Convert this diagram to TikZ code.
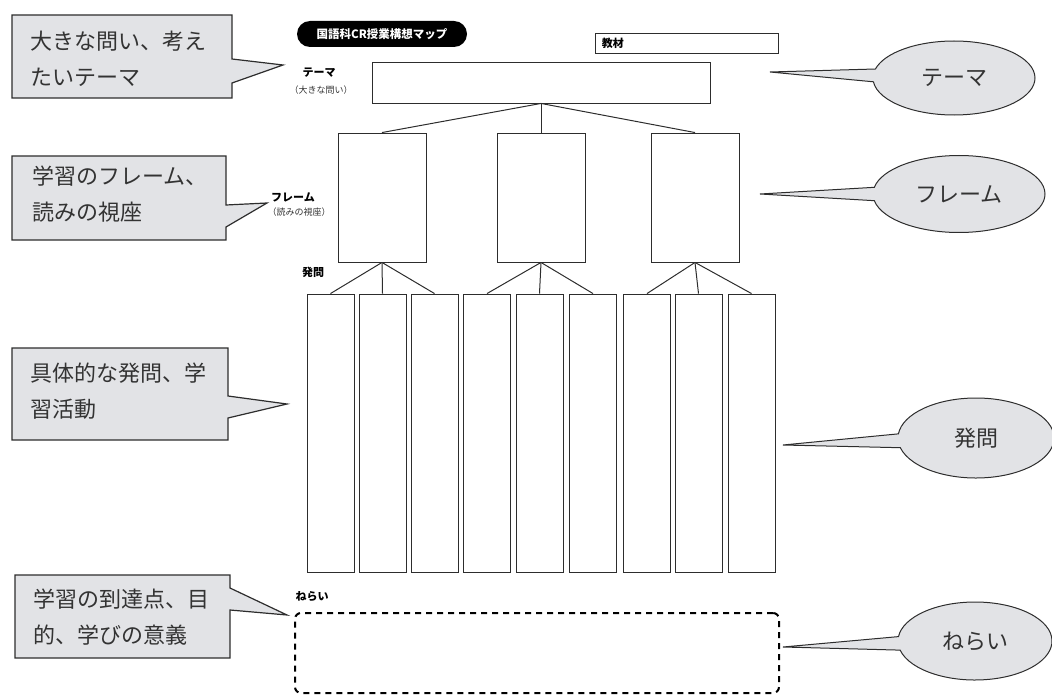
\documentclass[tikz,border=0pt]{standalone}
\usepackage{fontspec}
\setmainfont{Noto Sans CJK JP}
\usepackage{xcolor}
\usepackage{tikz}
\usetikzlibrary{shapes.geometric,shapes.callouts}

\definecolor{notegray}{RGB}{226,227,230}
\definecolor{linegray}{RGB}{45,45,45}

\tikzset{
	notebox/.style={draw=linegray, line width=1.2pt, fill=notegray},
	notetext/.style={anchor=west, align=left, inner sep=0pt, text=black!80,
		font=\fontsize{22}{36}\selectfont},
	bubble/.style={ellipse callout, draw=linegray, line width=1pt, fill=notegray,
		callout pointer arc=20, inner sep=0pt, text=black!80,
		font=\fontsize{22}{26}\selectfont},
	tag/.style={inner sep=0pt, font=\bfseries\fontsize{11}{13}\selectfont},
	subtag/.style={inner sep=0pt, text=black!80, font=\fontsize{9}{11}\selectfont},
	cell/.style={draw=linegray, line width=0.9pt, inner sep=0pt},
	link/.style={draw=linegray, line width=1pt},
}

\begin{document}
\begin{tikzpicture}[x=1pt,y=-1pt]
		\useasboundingbox (0,0) rectangle (1052,695);
		%
		\node[fill=black, text=white, rounded corners=13pt, minimum width=170pt,
			minimum height=26pt, font=\bfseries\fontsize{11.5}{13}\selectfont]
			(title) at (382,34) {国語科CR授業構想マップ};
		\node[cell, minimum width=183pt, minimum height=20pt] (M) at (686.5,43) {};
		\node[tag, anchor=west] (Mlab) at ([xshift=7pt]M.west) {教材};
		%
		\node[cell, minimum width=338pt, minimum height=41pt] (T) at (541,82.5) {};
		\node[tag] (Tlab) at (319,73) {テーマ};
		\node[subtag] (Tsub) at (321,90) {（大きな問い）};
		%
		\node[cell, minimum width=88pt, minimum height=129pt] (F1) at (382,197.5) {};
		\node[cell, minimum width=88pt, minimum height=129pt] (F2) at (541,197.5) {};
		\node[cell, minimum width=88pt, minimum height=129pt] (F3) at (695,197.5) {};
		\node[tag] (Flab) at (293,197) {フレーム};
		\node[subtag] (Fsub) at (299,212) {（読みの視座）};
		%
		\node[tag] (Qlab) at (313,272) {発問};
		\foreach \x [count=\i] in {330.5,382.5,434.5,487,539.5,593,647,698.5,751.5}
			\node[cell, minimum width=47pt, minimum height=278pt] (Q\i) at (\x,433) {};
		%
		\path[link]
		(T.south) edge (F1.north)
		(T.south) edge (F2.north)
		(T.south) edge (F3.north);
		\foreach \f/\a/\b/\c in {1/1/2/3, 2/4/5/6, 3/7/8/9}
			\path[link]
			(F\f.south) edge (Q\a.north)
			(F\f.south) edge (Q\b.north)
			(F\f.south) edge (Q\c.north);
		%
		\node[tag] (Glab) at (312,597) {ねらい};
		\node[draw, line width=2pt, dash pattern=on 6pt off 5pt, rounded corners=6pt,
			minimum width=484pt, minimum height=80pt] (G) at (537,653) {};
		%
		\draw[notebox] (12,15) -- (232,15) -- (232,59) -- (283,65) -- (232,83)
			-- (232,98) -- (12,98) -- cycle;
		\node[notetext] (n1) at (30,59) {大きな問い、考え\\たいテーマ};
		\draw[notebox] (12,156) -- (226,156) -- (226,205) -- (267,203) -- (226,227)
			-- (226,240) -- (12,240) -- cycle;
		\node[notetext] (n2) at (32,194) {学習のフレーム、\\読みの視座};
		\draw[notebox] (12,348) -- (228,348) -- (228,396) -- (287,404) -- (228,418)
			-- (228,440) -- (12,440) -- cycle;
		\node[notetext] (n3) at (30,391) {具体的な発問、学\\習活動};
		\draw[notebox] (15,575) -- (230,575) -- (230,588) -- (287,615) -- (230,610)
			-- (230,658) -- (15,658) -- cycle;
		\node[notetext] (n4) at (33,617) {学習の到達点、目\\的、学びの意義};
		%
		\coordinate (Ttip) at (770,72);
		\coordinate (Ftip) at (760,194);
		\coordinate (Qtip) at (783,445);
		\coordinate (Gtip) at (783,647);
		\node[bubble, minimum width=162pt, minimum height=74pt,
			callout absolute pointer={(Ttip)}] (Tb) at (954,78) {テーマ};
		\node[bubble, minimum width=172pt, minimum height=77pt,
			callout absolute pointer={(Ftip)}] (Fb) at (959,194) {フレーム};
		\node[bubble, minimum width=156pt, minimum height=80pt,
			callout absolute pointer={(Qtip)}] (Qb) at (976,438) {発問};
		\node[bubble, minimum width=154pt, minimum height=78pt,
			callout absolute pointer={(Gtip)}] (Gb) at (975,641) {ねらい};
	\end{tikzpicture}
\end{document}
